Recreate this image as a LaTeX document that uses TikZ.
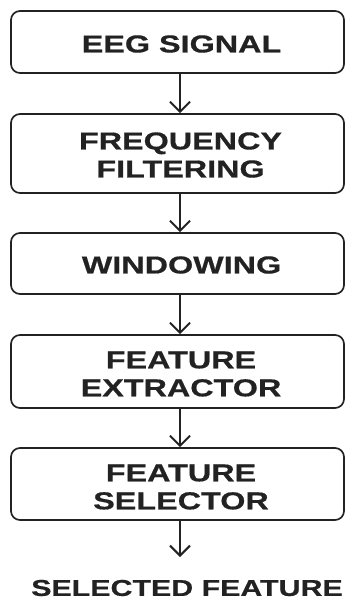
\documentclass[tikz,border=0pt]{standalone}
\usepackage{fontspec}
\newfontfamily\labelfont[FakeStretch=1.32,FakeBold=0.6]{Liberation Sans}
\usetikzlibrary{arrows.meta}
\definecolor{ink}{HTML}{222222}
\tikzset{
  stage/.style={draw=ink, line width=1.7pt, rounded corners=9pt,
    minimum width=333pt, inner sep=0pt},
  stagetext/.style={align=center, text=ink, inner sep=0pt,
    font=\labelfont\bfseries\fontsize{24.5}{28}\selectfont},
  flow/.style={draw=ink, line width=2pt,
    -{Straight Barb[length=10pt,width=20pt,line width=2pt]}}
}
\begin{document}
\begin{tikzpicture}[x=1pt,y=1pt]
  \useasboundingbox (0,0) rectangle (345,-600);
  % process boxes
  \node[stage, minimum height=62pt] (sig)  at (177.5,-42)    {};
  \node[stage, minimum height=79pt] (filt) at (177.5,-153.5) {};
  \node[stage, minimum height=61pt] (win)  at (177.5,-263.5) {};
  \node[stage, minimum height=73pt] (ext)  at (177.5,-371.5) {};
  \node[stage, minimum height=72pt] (sel)  at (177.5,-484)   {};
  % box captions
  \node[stagetext] (sigt)  at ([xshift=4pt,yshift=-2pt]sig)  {EEG SIGNAL};
  \node[stagetext] (filtt) at ([xshift=3pt,yshift=-1.5pt]filt) {FREQUENCY\\FILTERING};
  \node[stagetext] (wint)  at ([xshift=4pt,yshift=-1.5pt]win)  {WINDOWING};
  \node[stagetext] (extt)  at ([xshift=3.5pt,yshift=-2.5pt]ext)  {FEATURE\\EXTRACTOR};
  \node[stagetext] (selt)  at ([xshift=3.5pt,yshift=-3pt]sel)  {FEATURE\\SELECTOR};
  % final output
  \node[stagetext, font=\labelfont\bfseries\fontsize{23}{27}\selectfont]
    (out) at (187,-588) {SELECTED FEATURE};
  \coordinate (end) at (180,-557);
  \draw[flow] ([xshift=2.5pt]sig.south)  -- ([xshift=2.5pt]filt.north);
  \draw[flow] ([xshift=2.5pt]filt.south) -- ([xshift=2.5pt]win.north);
  \draw[flow] ([xshift=2.5pt]win.south)  -- ([xshift=2.5pt]ext.north);
  \draw[flow] ([xshift=2.5pt]ext.south)  -- ([xshift=2.5pt]sel.north);
  \draw[flow] ([xshift=2.5pt]sel.south)  -- (end);
\end{tikzpicture}
\end{document}
